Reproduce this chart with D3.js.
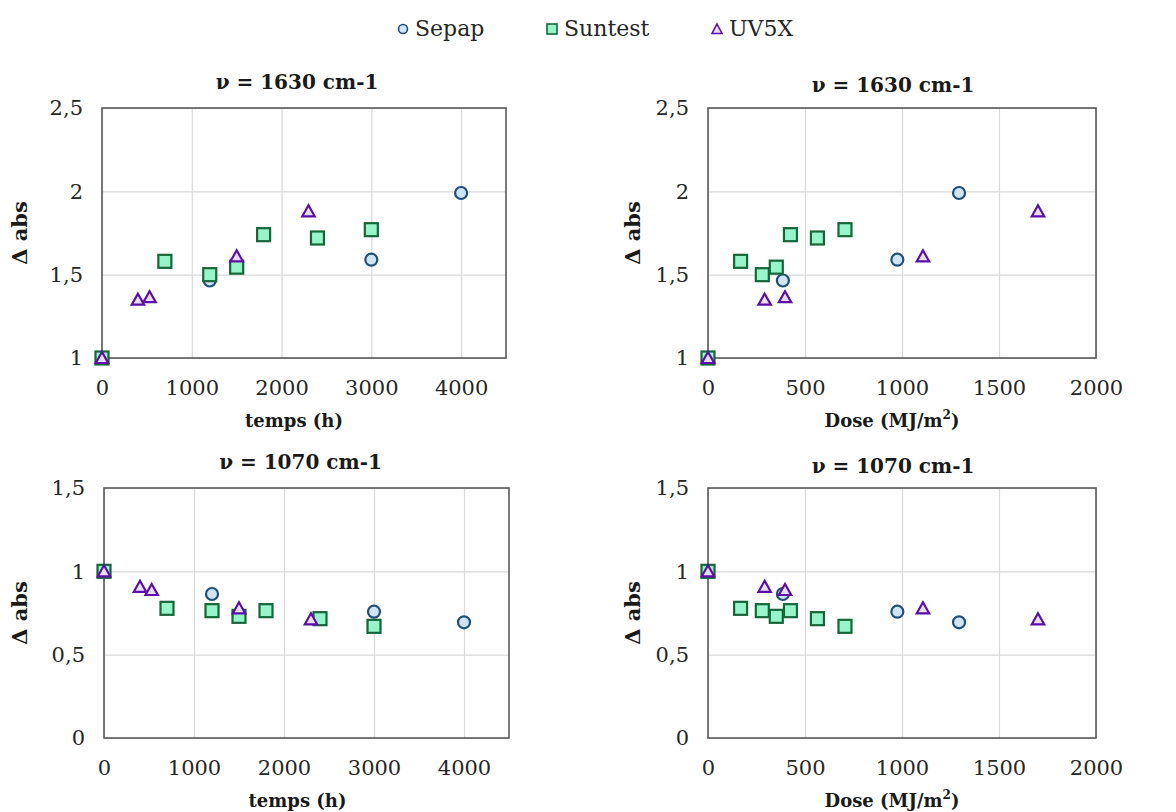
<!DOCTYPE html>
<html><head><meta charset="utf-8">
<script src="https://cdn.jsdelivr.net/npm/d3@7"></script>
<style>
html,body{margin:0;padding:0;background:#fff;}
svg{display:block;}
</style>
</head><body>
<svg id="chart" width="1176" height="812"></svg>
<script>
// ---- data ----
const seriesNames = ["Sepap", "Suntest", "UV5X"];
const sepapTime = [0, 1200, 3000, 4000];
const sepapDose = [0, 386, 976, 1294];
const sepap1630 = [1, 1.465, 1.59, 1.99];
const sepap1070 = [1, 0.864, 0.758, 0.694];
const suntestTime = [0, 700, 1200, 1500, 1800, 2400, 3000];
const suntestDose = [0, 168, 280, 352, 425, 564, 706];
const suntest1630 = [1, 1.58, 1.50, 1.545, 1.74, 1.72, 1.77];
const suntest1070 = [1, 0.778, 0.764, 0.73, 0.764, 0.716, 0.67];
const uv5xTime = [0, 400, 530, 1500, 2300];
const uv5xDose = [0, 292, 397, 1108, 1701];
const uv5x1630 = [1, 1.35, 1.365, 1.61, 1.88];
const uv5x1070 = [1, 0.907, 0.888, 0.778, 0.712];
const timeTicks = [0, 1000, 2000, 3000, 4000];
const doseTicks = [0, 500, 1000, 1500, 2000];
const ticks1630 = [1, 1.5, 2, 2.5];
const ticks1070 = [0, 0.5, 1, 1.5];
const titles = ["ν = 1630 cm-1", "ν = 1070 cm-1"];

// ---- style ----
const styles = {
  Sepap:   {fill: "#cfe5f7", stroke: "#1f4e79", shape: "circle"},
  Suntest: {fill: "#96f5c9", stroke: "#17663a", shape: "square"},
  UV5X:    {fill: "#eadcf8", stroke: "#5a0fa8", shape: "triangle"}
};
const FONT = "'DejaVu Serif', 'Liberation Serif', serif";
const fmt = d => String(d).replace(".", ",");

const svg = d3.select("#chart");

function marker(g, shape, st, x, y) {
  if (shape === "circle") {
    g.append("circle").attr("cx", x).attr("cy", y).attr("r", 6)
      .attr("fill", st.fill).attr("stroke", st.stroke).attr("stroke-width", 2.2);
  } else if (shape === "square") {
    g.append("rect").attr("x", x - 6.5).attr("y", y - 6.5).attr("width", 13).attr("height", 13)
      .attr("fill", st.fill).attr("stroke", st.stroke).attr("stroke-width", 2.2);
  } else {
    g.append("path").attr("d", `M${x},${y - 6}L${x + 6.2},${y + 5}L${x - 6.2},${y + 5}Z`)
      .attr("fill", st.fill).attr("stroke", st.stroke).attr("stroke-width", 2.2)
      .attr("stroke-linejoin", "miter");
  }
}

const panels = [
  {box: {l: 102, r: 506, t: 108, b: 358}, xDom: [0, 4500], xTicks: timeTicks, yDom: [1, 2.5], yTicks: ticks1630,
   title: titles[0], titleDx: -7, titleY: 89, xLabel: "temps (h)", xLabelDx: -10, yLabelX: 20,
   xs: [sepapTime, suntestTime, uv5xTime], ys: [sepap1630, suntest1630, uv5x1630]},
  {box: {l: 708, r: 1096, t: 108, b: 358}, xDom: [0, 2000], xTicks: doseTicks, yDom: [1, 2.5], yTicks: ticks1630,
   title: titles[0], titleDx: -9, titleY: 92, xLabel: "Dose (MJ/m²)", xLabelDx: -10, yLabelX: 633,
   xs: [sepapDose, suntestDose, uv5xDose], ys: [sepap1630, suntest1630, uv5x1630]},
  {box: {l: 104, r: 509, t: 488, b: 738}, xDom: [0, 4500], xTicks: timeTicks, yDom: [0, 1.5], yTicks: ticks1070,
   title: titles[1], titleDx: -6, titleY: 469, xLabel: "temps (h)", xLabelDx: -9, yLabelX: 20,
   xs: [sepapTime, suntestTime, uv5xTime], ys: [sepap1070, suntest1070, uv5x1070]},
  {box: {l: 708, r: 1096, t: 488, b: 738}, xDom: [0, 2000], xTicks: doseTicks, yDom: [0, 1.5], yTicks: ticks1070,
   title: titles[1], titleDx: -9, titleY: 473, xLabel: "Dose (MJ/m²)", xLabelDx: -10, yLabelX: 633,
   xs: [sepapDose, suntestDose, uv5xDose], ys: [sepap1070, suntest1070, uv5x1070]}
];

panels.forEach(p => {
  const B = p.box;
  const x = d3.scaleLinear().domain(p.xDom).range([B.l, B.r]);
  const y = d3.scaleLinear().domain(p.yDom).range([B.b, B.t]);
  const g = svg.append("g");

  // gridlines
  const gx = g.append("g").attr("transform", `translate(0,${B.b})`)
    .call(d3.axisBottom(x).tickValues(p.xTicks).tickSize(-(B.b - B.t)).tickFormat(""));
  gx.select(".domain").remove();
  gx.selectAll("line").attr("stroke", "#d9d9d9").attr("stroke-width", 1.2);
  const gy = g.append("g").attr("transform", `translate(${B.l},0)`)
    .call(d3.axisLeft(y).tickValues(p.yTicks).tickSize(-(B.r - B.l)).tickFormat(""));
  gy.select(".domain").remove();
  gy.selectAll("line").attr("stroke", "#d9d9d9").attr("stroke-width", 1.2);

  // tick labels
  const ax = g.append("g").attr("transform", `translate(0,${B.b})`)
    .call(d3.axisBottom(x).tickValues(p.xTicks).tickSize(0).tickPadding(22).tickFormat(fmt));
  ax.select(".domain").remove();
  ax.selectAll("text").attr("font-family", FONT).attr("font-size", 21).attr("fill", "#262626");
  const ay = g.append("g").attr("transform", `translate(${B.l},0)`)
    .call(d3.axisLeft(y).tickValues(p.yTicks).tickSize(0).tickPadding(19).tickFormat(fmt));
  ay.select(".domain").remove();
  ay.selectAll("text").attr("font-family", FONT).attr("font-size", 21).attr("fill", "#262626");

  // border
  g.append("rect").attr("x", B.l).attr("y", B.t).attr("width", B.r - B.l).attr("height", B.b - B.t)
    .attr("fill", "none").attr("stroke", "#595959").attr("stroke-width", 1.6);

  // markers
  seriesNames.forEach((name, i) => {
    const st = styles[name];
    const mg = g.append("g");
    p.xs[i].forEach((xv, j) => marker(mg, st.shape, st, x(xv), y(p.ys[i][j])));
  });

  // title
  g.append("text").attr("x", (B.l + B.r) / 2 + p.titleDx).attr("y", p.titleY)
    .attr("text-anchor", "middle").attr("font-family", FONT).attr("font-weight", "bold")
    .attr("font-size", 20).attr("fill", "#1a1a1a").text(p.title);
  // x label
  const xl = g.append("text").attr("x", (B.l + B.r) / 2 + p.xLabelDx).attr("y", B.b + 69)
    .attr("text-anchor", "middle").attr("font-family", FONT).attr("font-weight", "bold")
    .attr("font-size", 18).attr("fill", "#1a1a1a");
  if (p.xLabel.indexOf("²") >= 0) {
    xl.append("tspan").text("Dose (MJ/m");
    xl.append("tspan").attr("font-size", 12).attr("dy", -8).text("2");
    xl.append("tspan").attr("dy", 8).text(")");
  } else {
    xl.text(p.xLabel);
  }
  // y label
  g.append("text").attr("transform", `translate(${p.yLabelX + 7},${(B.t + B.b) / 2}) rotate(-90)`)
    .attr("text-anchor", "middle").attr("font-family", FONT).attr("font-weight", "bold")
    .attr("font-size", 21).attr("fill", "#1a1a1a").text("Δ abs");
});

// legend
const legendX = [403, 552, 717];
const lg = svg.append("g");
seriesNames.forEach((name, i) => {
  const st = styles[name];
  const lx = legendX[i];
  if (st.shape === "circle") {
    lg.append("circle").attr("cx", lx).attr("cy", 29).attr("r", 4.5)
      .attr("fill", st.fill).attr("stroke", st.stroke).attr("stroke-width", 1.6);
  } else if (st.shape === "square") {
    lg.append("rect").attr("x", lx - 5).attr("y", 24).attr("width", 10).attr("height", 10)
      .attr("fill", st.fill).attr("stroke", st.stroke).attr("stroke-width", 1.6);
  } else {
    lg.append("path").attr("d", `M${lx},${24}L${lx + 5},${33.5}L${lx - 5},${33.5}Z`)
      .attr("fill", st.fill).attr("stroke", st.stroke).attr("stroke-width", 1.6);
  }
  lg.append("text").attr("x", lx + 12).attr("y", 36).attr("font-family", FONT)
    .attr("font-size", 22).attr("fill", "#262626").text(name);
});
</script>
</body></html>
